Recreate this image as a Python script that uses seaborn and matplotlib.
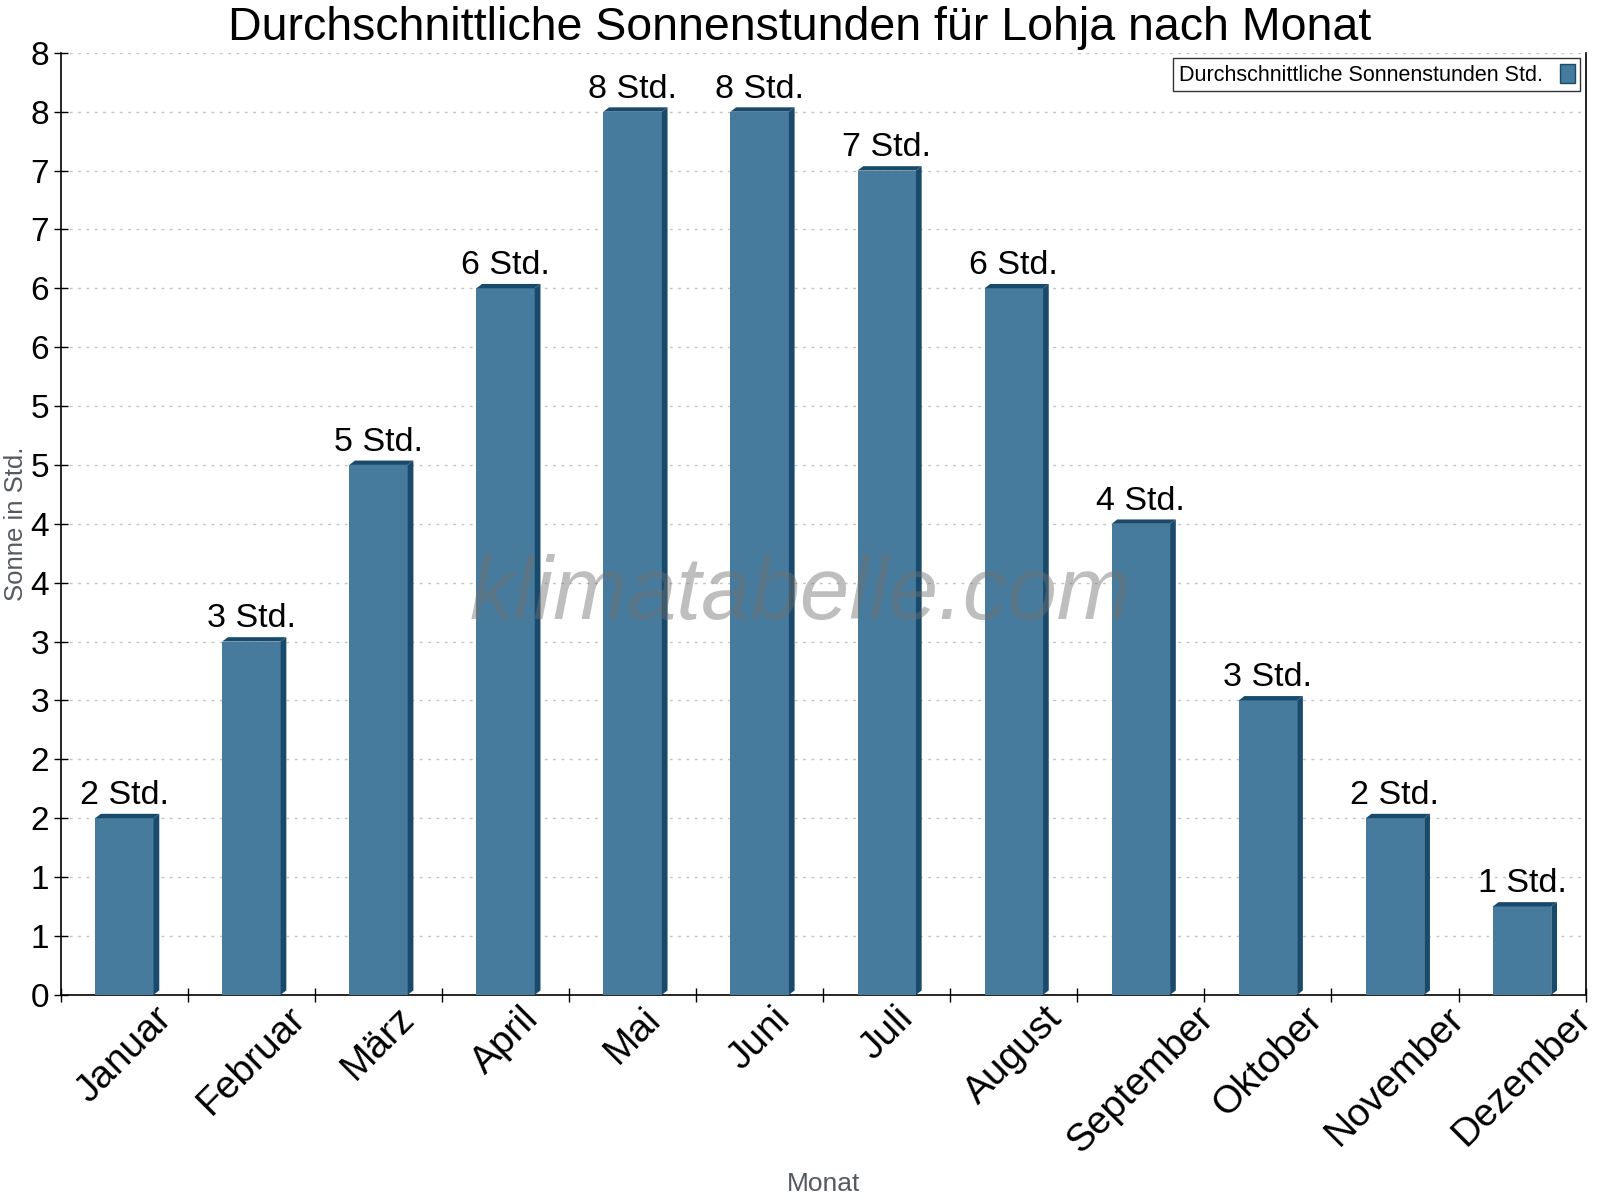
import seaborn as sns
import matplotlib.pyplot as plt
import numpy as np
from matplotlib.patches import Polygon
from matplotlib.ticker import MultipleLocator, FuncFormatter

months = ['Januar', 'Februar', 'März', 'April', 'Mai', 'Juni', 'Juli',
          'August', 'September', 'Oktober', 'November', 'Dezember']
sun_hours = [1.5, 3.0, 4.5, 6.0, 7.5, 7.5, 7.0, 6.0, 4.0, 2.5, 1.5, 0.75]
y_ticks = np.arange(0, 8.01, 0.5)

front = '#467b9d'
side = '#1a4a6b'

sns.set_theme(style='white')
plt.rcParams['font.family'] = ['Liberation Sans', 'DejaVu Sans']
plt.rcParams['text.color'] = 'black'
plt.rcParams['xtick.color'] = 'black'
plt.rcParams['ytick.color'] = 'black'

fig = plt.figure(figsize=(16, 12), dpi=100)
ax = fig.add_axes([0.038, 0.171, 0.953, 0.785])

sns.barplot(x=months, y=sun_hours, color=front, width=0.46, saturation=1,
            label='Durchschnittliche Sonnenstunden Std.', ax=ax, zorder=3,
            linewidth=0)

# fake 3d: dark right side and top face on every bar
dx, dy = 0.045, 0.037
for p in list(ax.patches):
    x0, h, w = p.get_x(), p.get_height(), p.get_width()
    x1 = x0 + w
    ax.add_patch(Polygon([(x1, 0), (x1 + dx, dy), (x1 + dx, h + dy), (x1, h)],
                         closed=True, color=side, zorder=3, lw=0))
    ax.add_patch(Polygon([(x0, h), (x0 + dx, h + dy), (x1 + dx, h + dy), (x1, h)],
                         closed=True, color=side, zorder=3, lw=0))

# value labels
for i, v in enumerate(sun_hours):
    ax.text(i, v + 0.06, f'{int(v + 0.5)} Std.', ha='center', va='bottom',
            fontsize=24.5, color='black', zorder=5)

ax.set_xlim(-0.5, 11.5)
ax.set_ylim(0, 8)
ax.set_yticks(y_ticks)
ax.yaxis.set_major_formatter(FuncFormatter(lambda v, pos: f'{int(v + 0.5)}'))
ax.yaxis.grid(True, linestyle=(0, (2, 4)), color='#c4c4c4', lw=1)
ax.set_axisbelow(True)

ax.set_xticks(range(len(months)))
ax.set_xticklabels(months, rotation=45, ha='center', fontsize=28)
ax.xaxis.set_minor_locator(MultipleLocator(1, offset=0.5))
ax.tick_params(axis='x', which='major', length=0, pad=4)
ax.tick_params(axis='x', which='minor', length=10, direction='inout', width=1, color='black', bottom=True)
ax.tick_params(axis='y', length=10, direction='inout', width=1, color='black', labelsize=24, left=True)

for s in ['left', 'bottom', 'right']:
    ax.spines[s].set_visible(True)
    ax.spines[s].set_color('black')
    ax.spines[s].set_linewidth(1.2)
ax.spines['top'].set_visible(False)

fig.text(0.5, 0.9665, 'Durchschnittliche Sonnenstunden für Lohja nach Monat', fontsize=33.5,
         ha='center', va='baseline', color='black')
ax.set_xlabel('Monat', fontsize=19, color='#555a60', labelpad=8)
ax.set_ylabel('Sonne in Std.', fontsize=18.5, color='#555a60', labelpad=2)

fig.text(0.5, 0.503, 'klimatabelle.com', ha='center', va='center',
         fontsize=64, style='italic', color='#707070', alpha=0.45, zorder=4)

leg = ax.legend(loc='upper right', markerfirst=False, fontsize=15.5, frameon=True,
                fancybox=False, edgecolor='black', handlelength=0.7, handleheight=1.0,
                borderaxespad=0.25, borderpad=0.25)
leg.get_frame().set_linewidth(1)
for h in leg.legend_handles:
    h.set_edgecolor(side)
    h.set_linewidth(1)

fig.savefig('out.png', dpi=100)
